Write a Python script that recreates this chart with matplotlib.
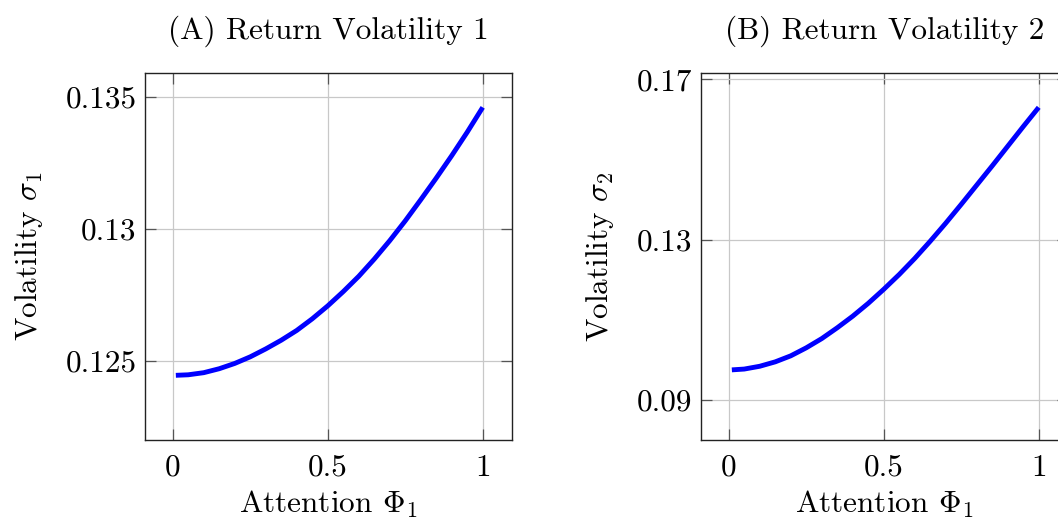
import matplotlib
matplotlib.use("Agg")
import matplotlib.pyplot as plt

plt.rcParams['font.family'] = ['cmr10', 'DejaVu Serif']
plt.rcParams['mathtext.fontset'] = 'cm'
plt.rcParams['axes.formatter.use_mathtext'] = True

# Data
phi = [0.01, 0.05, 0.10, 0.15, 0.20, 0.25, 0.30, 0.35, 0.40, 0.45, 0.50,
       0.55, 0.60, 0.65, 0.70, 0.75, 0.80, 0.85, 0.90, 0.95, 1.00]
vol1 = [0.12445, 0.12447, 0.12455, 0.12470, 0.12490, 0.12515, 0.12545,
        0.12578, 0.12615, 0.12659, 0.12708, 0.12762, 0.12820, 0.12885,
        0.12955, 0.13030, 0.13110, 0.13192, 0.13277, 0.13366, 0.13460]
vol2 = [0.0975, 0.0977, 0.0984, 0.0995, 0.1010, 0.1030, 0.1053,
        0.1080, 0.1109, 0.1141, 0.1176, 0.1213, 0.1253, 0.1296,
        0.1341, 0.1388, 0.1436, 0.1484, 0.1533, 0.1582, 0.1630]

xticks = [0, 0.5, 1]
xticklabels = ["0", "0.5", "1"]
yticks1 = [0.125, 0.13, 0.135]
yticklabels1 = ["0.125", "0.13", "0.135"]
yticks2 = [0.09, 0.13, 0.17]
yticklabels2 = ["0.09", "0.13", "0.17"]

titles = ["(A) Return Volatility 1", "(B) Return Volatility 2"]
ylabels = [r"Volatility $\sigma_1$", r"Volatility $\sigma_2$"]
xlabel = r"Attention $\Phi_1$"

W, H = 1058, 520
fig = plt.figure(figsize=(W / 100, H / 100), dpi=100)

def px_axes(left, top, right, bottom):
    return fig.add_axes([left / W, 1 - bottom / H, (right - left) / W, (bottom - top) / H])

axA = px_axes(145, 73.3, 512, 440)
axB = px_axes(701, 73.3, 1068, 440)

specs = [
    (axA, vol1, yticks1, yticklabels1, (0.12200, 0.13589)),
    (axB, vol2, yticks2, yticklabels2, (0.0800, 0.1715)),
]

FS = 22.5
for i, (ax, vals, yt, ytl, ylim) in enumerate(specs):
    ax.plot(phi, vals, color='#0000ff', lw=3.5, solid_capstyle='butt',
            solid_joinstyle='round', zorder=3)
    ax.set_xlim(-0.0895, 1.0945)
    ax.set_ylim(*ylim)
    ax.set_xticks(xticks)
    ax.set_xticklabels(xticklabels)
    ax.set_yticks(yt)
    ax.set_yticklabels(ytl)
    ax.grid(True, color='#c8c8c8', lw=0.9)
    ax.set_axisbelow(True)
    ax.tick_params(direction='in', length=8, width=0.9, color='#555555',
                   top=True, right=True, labelsize=FS)
    ax.tick_params(axis='x', pad=10)
    ax.tick_params(axis='y', pad=6)
    for s in ax.spines.values():
        s.set_linewidth(1.0)
        s.set_color('#222222')
    ax.set_title(titles[i], fontsize=FS, pad=25)
    ax.set_xlabel(xlabel, fontsize=FS, labelpad=5)
    ax.set_ylabel(ylabels[i], fontsize=FS, labelpad=15)

fig.savefig("out.png", dpi=100)
